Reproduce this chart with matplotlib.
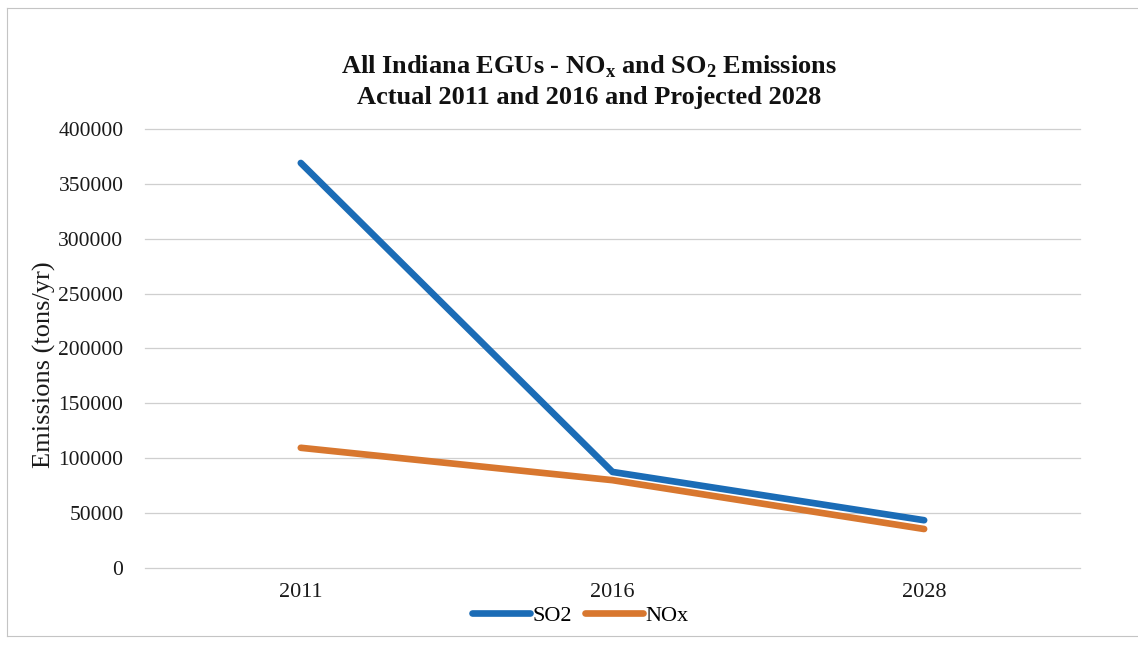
import matplotlib.pyplot as plt
from matplotlib.lines import Line2D

# Indiana EGU emissions, tons per year
years = ['2011', '2016', '2028']
so2 = [369000, 87500, 43500]
nox = [109500, 80000, 35500]
y_ticks = [0, 50000, 100000, 150000, 200000, 250000, 300000, 350000, 400000]

plt.rcParams['font.family'] = ['Liberation Serif', 'DejaVu Serif']
plt.rcParams['mathtext.fontset'] = 'custom'
plt.rcParams['mathtext.rm'] = 'Liberation Serif:bold'

blue = '#1b6cb6'
orange = '#d8772f'
grid_grey = '#cfcfcf'

fig = plt.figure(figsize=(11.38, 6.48), dpi=100)
ax = fig.add_axes([0.1274, 0.1235, 0.8216, 0.6775])

x = list(range(len(years)))
ax.plot(x, so2, color=blue, lw=4.8, solid_capstyle='round', solid_joinstyle='round', zorder=3)
ax.plot(x, nox, color=orange, lw=4.8, solid_capstyle='round', solid_joinstyle='round', zorder=2)

ax.set_xlim(-0.5, len(years) - 0.5)
ax.set_ylim(0, 400000)
ax.set_yticks(y_ticks)
ax.set_yticklabels([str(v) for v in y_ticks], fontsize=15.5)
ax.set_xticks(x)
ax.set_xticklabels(years, fontsize=16)
ax.tick_params(axis='both', length=0, colors='#1a1a1a')
ax.tick_params(axis='y', pad=15.5)
ax.tick_params(axis='x', pad=11)
ax.yaxis.grid(True, color=grid_grey, lw=0.9)
for gl in ax.get_ygridlines():
    gl.set_clip_on(False)
ax.set_axisbelow(True)
for side in ax.spines.values():
    side.set_visible(False)

ax.set_ylabel('Emissions (tons/yr)', fontsize=19, color='#1a1a1a')
ax.yaxis.set_label_coords(-0.095, 0.462)

fig.text(0.518, 0.875,
         'All Indiana EGUs - NO$_\\mathrm{x}$ and SO$_\\mathrm{2}$ Emissions\n'
         'Actual 2011 and 2016 and Projected 2028',
         ha='center', va='center', fontsize=19, fontweight='bold',
         linespacing=1.35, color='#111111')

handles = [Line2D([], [], color=blue, lw=4.8, solid_capstyle='round'),
           Line2D([], [], color=orange, lw=4.8, solid_capstyle='round')]
fig.legend(handles, ['SO2', 'NOx'], loc='center', bbox_to_anchor=(0.51, 0.05),
           ncol=2, frameon=False, fontsize=16, handlelength=2.6,
           handletextpad=0.1, columnspacing=0.6)

# faint page frame
frame = dict(color='#c4c4c4', lw=0.8, transform=fig.transFigure)
fig.add_artist(Line2D([0.006, 0.006], [0.018, 0.988], **frame))
fig.add_artist(Line2D([0.006, 1.0], [0.988, 0.988], **frame))
fig.add_artist(Line2D([0.006, 1.0], [0.018, 0.018], **frame))

fig.savefig('out.png', dpi=100, facecolor='white')
